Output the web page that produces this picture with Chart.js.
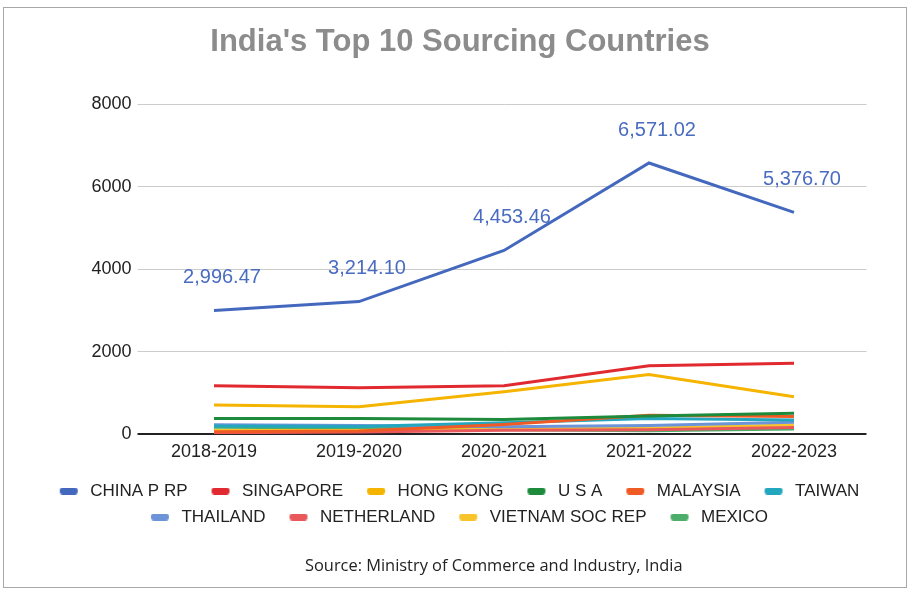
<!DOCTYPE html>
<html><head><meta charset="utf-8">
<script src="https://cdn.jsdelivr.net/npm/chart.js@4.4.0/dist/chart.umd.min.js"></script>
<style>
html,body{margin:0;padding:0;background:#fff;}
#wrap{position:relative;width:910px;height:595px;}
#frame{position:absolute;left:3px;top:7px;width:902px;height:579px;border:1px solid #a8a8a8;pointer-events:none;}
#src{position:absolute;left:305px;top:553px;white-space:nowrap;font-family:"Open Sans",sans-serif;font-size:16.4px;line-height:24px;color:#222;}
</style>
</head><body>
<div id="wrap">
<canvas id="c" width="910" height="595"></canvas>
<div id="frame"></div>
<div id="src">Source: Ministry of Commerce and Industry, India</div>
</div>
<script>
const years = ["2018-2019","2019-2020","2020-2021","2021-2022","2022-2023"];
const seriesNames = ["CHINA P RP","SINGAPORE","HONG KONG","U S A","MALAYSIA","TAIWAN","THAILAND","NETHERLAND","VIETNAM SOC REP","MEXICO"];
const china      = [2996.47, 3214.10, 4453.46, 6571.02, 5376.70];
const singapore  = [1175, 1125, 1175, 1660, 1720];
const hongKong   = [710, 665, 1030, 1450, 910];
const usa        = [385, 385, 360, 445, 510];
const malaysia   = [60, 80, 240, 460, 430];
const taiwan     = [200, 190, 280, 380, 345];
const thailand   = [230, 215, 180, 215, 290];
const netherland = [40, 55, 100, 110, 165];
const vietnam    = [90, 95, 120, 150, 225];
const mexico     = [170, 150, 110, 85, 130];
const yTicks = [0, 2000, 4000, 6000, 8000];

const seriesValues = [china, singapore, hongKong, usa, malaysia, taiwan, thailand, netherland, vietnam, mexico];
const colors = ["#4468bd","#e02a30","#f5b400","#1d8a3c","#f05a24","#22a7be","#6d94d8","#e9585b","#f7c52b","#4cae6a"];

function marker(color){
  const cv = document.createElement('canvas');
  cv.width = 37; cv.height = 7;
  const g = cv.getContext('2d');
  g.fillStyle = color;
  g.beginPath();
  if (g.roundRect) g.roundRect(15, 0, 18, 7, 3); else g.rect(15,0,18,7);
  g.fill();
  return cv;
}
const markers = colors.map(marker);

const labelPlugin = {
  id: 'chinaLabels',
  afterLayout(chart){
    if (chart.legend) { chart.legend.left -= 8; chart.legend.right -= 8; }
  },
  afterDatasetsDraw(chart){
    const meta = chart.getDatasetMeta(0);
    const ctx = chart.ctx;
    ctx.save();
    ctx.font = '20px "Liberation Sans", Arial, sans-serif';
    ctx.fillStyle = '#4a6cc0';
    ctx.textAlign = 'center';
    ctx.textBaseline = 'middle';
    meta.data.forEach((pt, i) => {
      const txt = china[i].toLocaleString('en-US', {minimumFractionDigits: 2, maximumFractionDigits: 2});
      ctx.fillText(txt, pt.x + 8, pt.y - 33);
    });
    ctx.restore();
  }
};

new Chart(document.getElementById('c'), {
  type: 'line',
  data: {
    labels: years,
    datasets: seriesNames.map((n, i) => ({
      label: n,
      data: seriesValues[i],
      borderColor: colors[i],
      backgroundColor: colors[i],
      borderWidth: 3,
      pointRadius: 0,
      pointHoverRadius: 0,
      tension: 0,
      fill: false
    }))
  },
  options: {
    responsive: false,
    animation: false,
    layout: { padding: { top: 8, left: 10, right: 0, bottom: 59.5 } },
    plugins: {
      title: {
        display: true,
        text: "India's Top 10 Sourcing Countries",
        color: '#8c8c8c',
        font: { family: '"Liberation Sans", Arial, sans-serif', size: 31, weight: 'bold', lineHeight: 1.2 },
        padding: { top: 15.9, bottom: 42.9 }
      },
      legend: {
        position: 'bottom',
        labels: {
          color: '#222',
          font: { family: '"Liberation Sans", Arial, sans-serif', size: 17, lineHeight: 1 },
          usePointStyle: true,
          pointStyleWidth: 37,
          boxHeight: 7,
          padding: 9,
          generateLabels(chart){
            const items = Chart.defaults.plugins.legend.labels.generateLabels(chart);
            items.forEach(it => { it.pointStyle = markers[it.datasetIndex]; });
            return items;
          }
        }
      },
      tooltip: { enabled: false }
    },
    scales: {
      x: {
        offset: true,
        grid: { display: false, drawTicks: false },
        border: { display: false },
        ticks: { color: '#222', padding: 7, font: { family: '"Liberation Sans", Arial, sans-serif', size: 18 } },
        afterFit(s){ s.height = 39.2; }
      },
      y: {
        min: 0, max: 8000,
        afterBuildTicks(s){ s.ticks = yTicks.map(v => ({value: v})); },
        border: { display: false },
        grid: {
          drawTicks: true, tickLength: 4,
          color: c => (c.tick && c.tick.value === 0) ? '#222' : '#cccccc',
          lineWidth: c => (c.tick && c.tick.value === 0) ? 2 : 1
        },
        ticks: { color: '#222', padding: 6, font: { family: '"Liberation Sans", Arial, sans-serif', size: 18 }, callback: v => String(v) },
        afterFit(s){ s.width = 131.5; }
      },
      yR: {
        position: 'right',
        display: true,
        grid: { display: false, drawTicks: false },
        border: { display: false },
        ticks: { display: false },
        afterFit(s){ s.width = 43.5; }
      }
    }
  },
  plugins: [labelPlugin]
});
</script>
</body></html>
